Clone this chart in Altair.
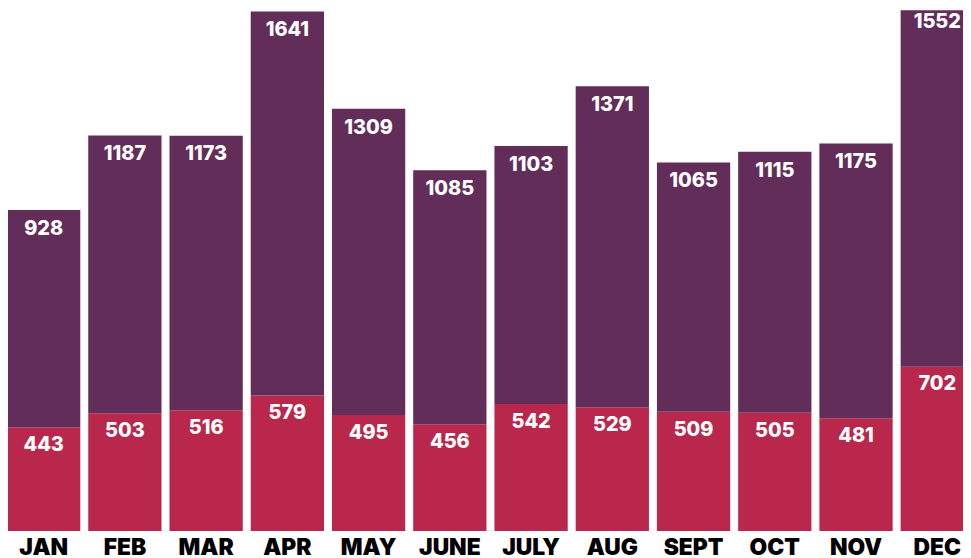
import altair as alt
import pandas as pd

months = ["JAN", "FEB", "MAR", "APR", "MAY", "JUNE", "JULY", "AUG", "SEPT", "OCT", "NOV", "DEC"]
upper = [928, 1187, 1173, 1641, 1309, 1085, 1103, 1371, 1065, 1115, 1175, 1552]
lower = [443, 503, 516, 579, 495, 456, 542, 529, 509, 505, 481, 702]
series_names = ["Lower", "Upper"]
series_colors = ["#B9284C", "#632D5A"]

bars_df = pd.DataFrame({
    "month": months * 2,
    "series": [series_names[0]] * len(months) + [series_names[1]] * len(months),
    "value": lower + upper,
    "ord": [0] * len(months) + [1] * len(months),
})
wide = pd.DataFrame({"month": months, "lower": lower, "upper": upper})

x_scale = alt.Scale(paddingInner=0.098, paddingOuter=0)
x_enc = alt.X(
    "month:N", sort=months, scale=x_scale,
    axis=alt.Axis(title=None, domain=False, ticks=False, labelAngle=0,
                  labelFontSize=23, labelFont="Inter", labelFontWeight=900,
                  labelColor="#000000", labelPadding=6),
)
y_scale = alt.Scale(domain=[0, 2225], nice=False, zero=True)

bars = alt.Chart(bars_df).mark_bar(clip=True).encode(
    x=x_enc,
    y=alt.Y("value:Q", stack="zero", scale=y_scale, axis=None),
    color=alt.Color("series:N", scale=alt.Scale(domain=series_names, range=series_colors), legend=None),
    order=alt.Order("ord:Q"),
)

base = alt.Chart(wide).transform_calculate(top="datum.lower + datum.upper")
top_labels = base.mark_text(color="white", font="Inter", fontSize=20, fontWeight=800,
                            baseline="middle", dy=19).encode(
    x=alt.X("month:N", sort=months),
    y=alt.Y("top:Q", scale=y_scale),
    text=alt.Text("upper:Q"),
)
low_labels = base.mark_text(color="white", font="Inter", fontSize=20, fontWeight=800,
                            baseline="middle", dy=18).encode(
    x=alt.X("month:N", sort=months),
    y=alt.Y("lower:Q", scale=y_scale),
    text=alt.Text("lower:Q"),
)

chart = alt.layer(bars, top_labels, low_labels).properties(
    width=975, height=525,
    padding={"left": -1, "top": 0, "right": -11, "bottom": 25},
    autosize=alt.AutoSizeParams(type="none"),
).configure_view(stroke=None)

chart.save("out.html", embed_options={"renderer": "svg", "actions": False})
